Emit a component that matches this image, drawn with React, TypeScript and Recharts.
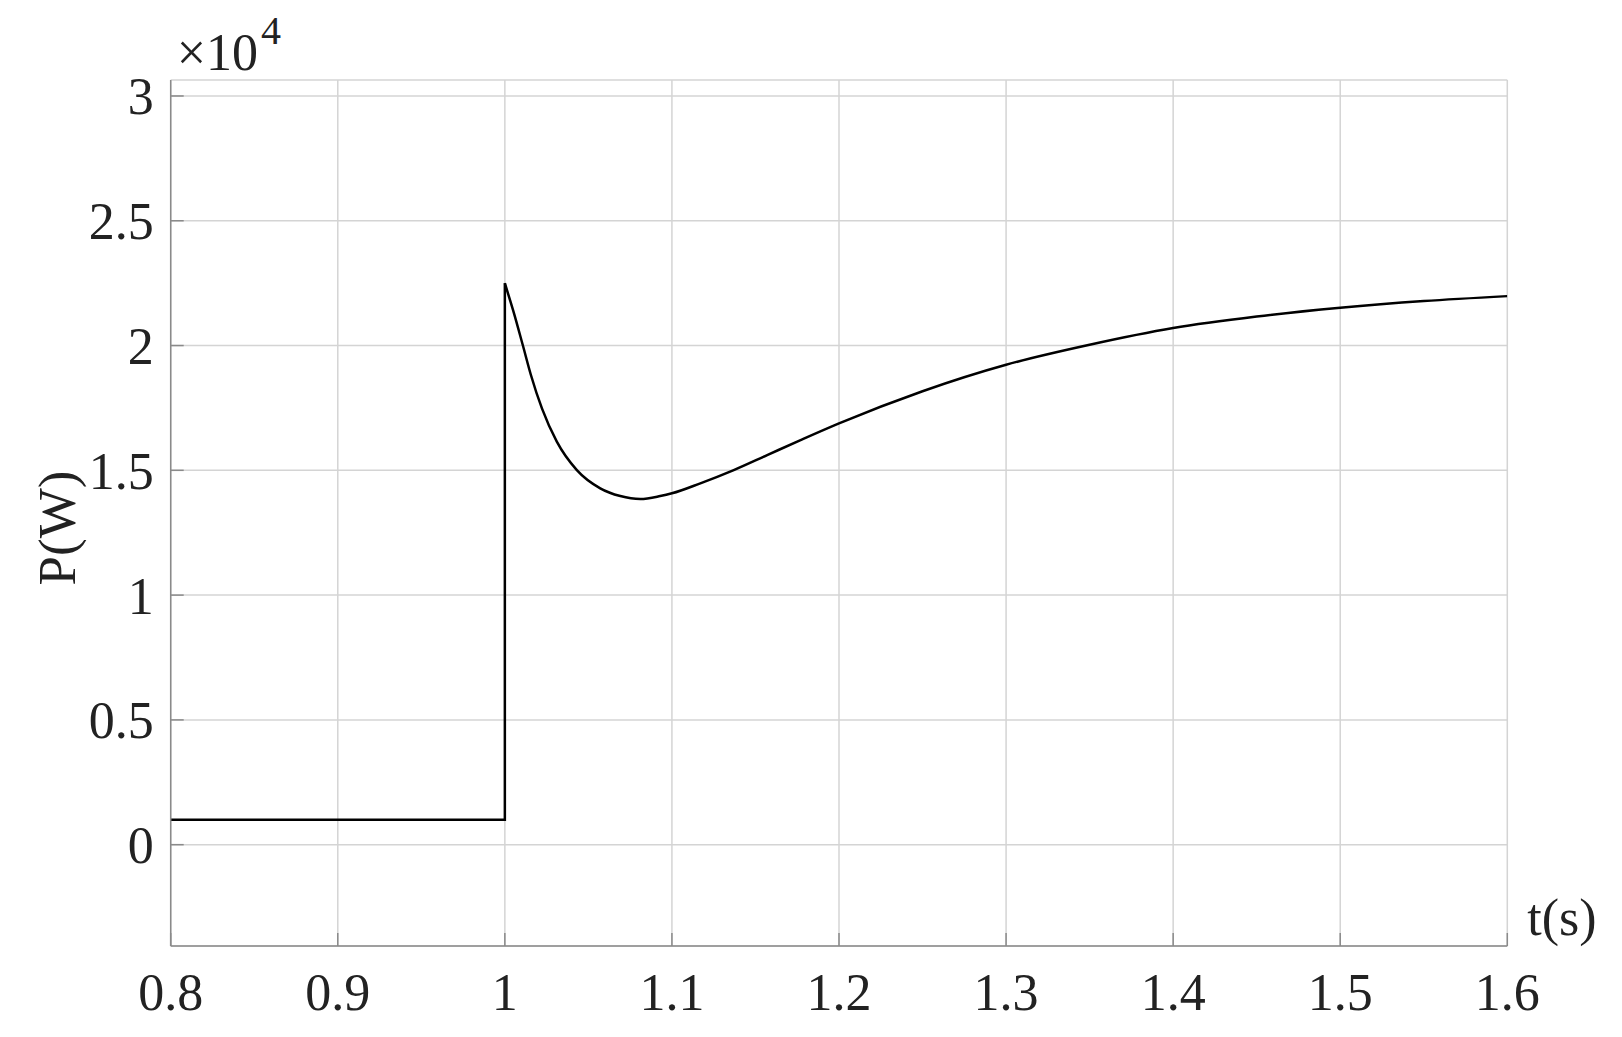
import React from "react"
import { CartesianGrid, Line, LineChart, XAxis, YAxis } from "recharts"

// pre-disturbance step: time (s) and power (W)
const stepTimes = [0.8, 1.0, 1.0]
const stepPower = [1000, 1000, 22500]

// response after t = 1 s
const curveTimes = [
  1.0, 1.0025, 1.005, 1.0108, 1.0156, 1.0222, 1.0311, 1.0431, 1.0571, 1.0691,
  1.0811, 1.093, 1.1, 1.117, 1.137, 1.157, 1.177, 1.2, 1.25, 1.3, 1.35, 1.4,
  1.45, 1.5, 1.55, 1.6,
]
const curvePower = [
  22500, 21950, 21400, 20000, 18820, 17480, 16150, 15010, 14280, 13970,
  13850, 13970, 14080, 14480, 15010, 15610, 16210, 16880, 18170, 19230, 20030,
  20700, 21160, 21510, 21780, 21980,
]

const xTicks = [0.8, 0.9, 1, 1.1, 1.2, 1.3, 1.4, 1.5, 1.6]
const yTicks = [0, 5000, 10000, 15000, 20000, 25000, 30000]

const stepData = stepTimes.map((t, i) => ({ t, p: stepPower[i] }))
const curveData = curveTimes.map((t, i) => ({ t, p: curvePower[i] }))

const FONT = "'Liberation Serif', 'Times New Roman', serif"
const AXIS = "#8a8a8a"
const GRID = "#d4d4d4"

const tickStyle = { fontFamily: FONT, fontSize: 52, fill: "#222" }

const YAxisLabels = ({ viewBox }: any) => {
  const { x, y, width, height } = viewBox
  const cy = y + height / 2 + 15
  return (
    <g>
      <text
        x={x + width + 6}
        y={y - 10}
        fontFamily={FONT}
        fontSize={52}
        fill="#222"
      >
        ×10
        <tspan dx={3} dy={-26} fontSize={40}>
          4
        </tspan>
      </text>
      <text
        x={49}
        y={cy}
        fontFamily={FONT}
        fontSize={53}
        fill="#222"
        textAnchor="middle"
        dominantBaseline="central"
        transform={`rotate(-90, 49, ${cy})`}
      >
        P(W)
      </text>
    </g>
  )
}

const XAxisLabel = ({ viewBox }: any) => {
  const { x, y, width } = viewBox
  return (
    <text x={x + width + 20} y={y - 11} fontFamily={FONT} fontSize={52} fill="#222">
      t(s)
    </text>
  )
}

export default function App() {
  return (
    <LineChart
      width={1606}
      height={1021}
      margin={{ top: 72, right: 106.7, bottom: 23, left: 0 }}
    >
      <CartesianGrid stroke={GRID} strokeWidth={1.5} />
      <XAxis
        dataKey="t"
        type="number"
        domain={[0.8, 1.6]}
        ticks={xTicks}
        allowDataOverflow
        height={60}
        tickSize={-13}
        tickMargin={40}
        tick={tickStyle}
        stroke={AXIS}
        strokeWidth={1.5}
        label={<XAxisLabel />}
      />
      <XAxis
        xAxisId="top"
        orientation="top"
        type="number"
        domain={[0.8, 1.6]}
        ticks={xTicks}
        allowDataOverflow
        height={0}
        tickSize={-13}
        tick={false}
        stroke={AXIS}
        strokeWidth={1.5}
      />
      <YAxis
        type="number"
        domain={[-4060, 30640]}
        ticks={yTicks}
        allowDataOverflow
        width={162.7}
        tickSize={-13}
        tickMargin={30}
        tick={tickStyle}
        tickFormatter={(v: number) => String(v / 10000)}
        stroke={AXIS}
        strokeWidth={1.5}
        label={<YAxisLabels />}
      />
      <YAxis
        yAxisId="right"
        orientation="right"
        type="number"
        domain={[-4060, 30640]}
        ticks={yTicks}
        allowDataOverflow
        width={0}
        tickSize={-13}
        tick={false}
        stroke={AXIS}
        strokeWidth={1.5}
      />
      <Line
        data={stepData}
        type="linear"
        dataKey="p"
        stroke="#000"
        strokeWidth={2.5}
        dot={false}
        isAnimationActive={false}
      />
      <Line
        data={curveData}
        type="monotone"
        dataKey="p"
        stroke="#000"
        strokeWidth={2.5}
        dot={false}
        isAnimationActive={false}
      />
    </LineChart>
  )
}
